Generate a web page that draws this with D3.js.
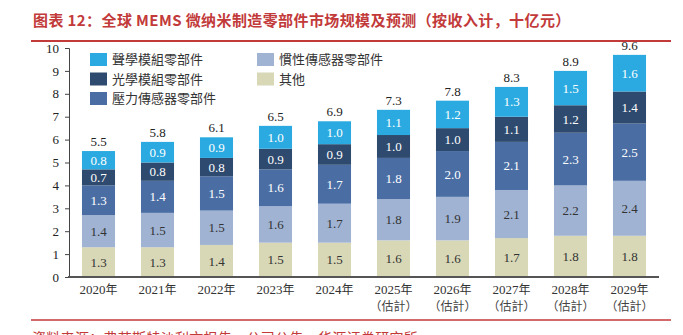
<!DOCTYPE html>
<meta charset="utf-8">
<html lang="zh">
<head>
<title>全球 MEMS 微纳米制造零部件市场规模及预测</title>
<style>
body { margin: 0; background: #fff; }
svg { display: block; }
.num { font-family: "Liberation Serif", "DejaVu Serif", serif; font-size: 13px; }
.cjk { font-family: "Noto Sans CJK TC", "Noto Sans CJK SC", sans-serif; }
</style>
</head>
<body>
<script src="https://d3js.org/d3.v7.min.js"></script>
<script>

var years = ["2020", "2021", "2022", "2023", "2024", "2025", "2026", "2027", "2028", "2029"];
var estimated = [false, false, false, false, false, true, true, true, true, true];

// stacked from the bottom up
var series = ["其他", "慣性傳感器零部件", "壓力傳感器零部件", "光學模組零部件", "聲學模組零部件"];
var other    = [1.3, 1.3, 1.4, 1.5, 1.5, 1.6, 1.6, 1.7, 1.8, 1.8];
var inertial = [1.4, 1.5, 1.5, 1.6, 1.7, 1.8, 1.9, 2.1, 2.2, 2.4];
var pressure = [1.3, 1.4, 1.5, 1.6, 1.7, 1.8, 2.0, 2.1, 2.3, 2.5];
var optical  = [0.7, 0.8, 0.8, 0.9, 0.9, 1.0, 1.0, 1.1, 1.2, 1.4];
var acoustic = [0.8, 0.9, 0.9, 1.0, 1.0, 1.1, 1.2, 1.3, 1.5, 1.6];
var totals   = [5.5, 5.8, 6.1, 6.5, 6.9, 7.3, 7.8, 8.3, 8.9, 9.6];

var yTicks = [0, 1, 2, 3, 4, 5, 6, 7, 8, 9, 10];

var colors = {
  "其他": "#d8d8b7",
  "慣性傳感器零部件": "#a0b3d3",
  "壓力傳感器零部件": "#4a6ea4",
  "光學模組零部件": "#2e4a6e",
  "聲學模組零部件": "#2aaae0"
};
var labelColor = {
  "其他": "#333", "慣性傳感器零部件": "#333",
  "壓力傳感器零部件": "#fff", "光學模組零部件": "#fff", "聲學模組零部件": "#fff"
};

var rows = years.map(function(y, i) {
  return { year: y, est: estimated[i], total: totals[i],
    "其他": other[i], "慣性傳感器零部件": inertial[i], "壓力傳感器零部件": pressure[i],
    "光學模組零部件": optical[i], "聲學模組零部件": acoustic[i] };
});

var width = 683, height = 335;
var red = "#c23a3a";

var svg = d3.select("body").append("svg")
    .attr("width", width)
    .attr("height", height);

// title and rules
svg.append("text")
    .attr("class", "cjk")
    .attr("x", 33).attr("y", 26)
    .attr("fill", red)
    .attr("font-size", 15).attr("font-weight", "bold")
    .attr("letter-spacing", 0.4)
    .text("图表 12：全球 MEMS 微纳米制造零部件市场规模及预测（按收入计，十亿元）");

svg.append("line")
    .attr("x1", 31).attr("x2", 671).attr("y1", 41).attr("y2", 41)
    .attr("stroke", red).attr("stroke-width", 2);

svg.append("line")
    .attr("x1", 31).attr("x2", 671).attr("y1", 320).attr("y2", 320)
    .attr("stroke", red).attr("stroke-width", 1.5);

svg.append("text")
    .attr("class", "cjk")
    .attr("x", 32).attr("y", 343)
    .attr("fill", red)
    .attr("font-size", 14)
    .attr("letter-spacing", 0.3)
    .text("资料来源：弗若斯特沙利文报告，公司公告，华源证券研究所");

var x = d3.scaleBand()
    .domain(years)
    .range([69, 659])
    .paddingInner(0.44)
    .paddingOuter(0.22);

var y = d3.scaleLinear()
    .domain([0, 10])
    .range([277, 48]);

var stack = d3.stack().keys(series)(rows);

var layer = svg.selectAll(".layer")
    .data(stack)
  .enter().append("g")
    .attr("class", "layer")
    .attr("fill", function(d) { return colors[d.key]; });

layer.selectAll("rect")
    .data(function(d) { return d; })
  .enter().append("rect")
    .attr("x", function(d) { return x(d.data.year); })
    .attr("width", x.bandwidth())
    .attr("y", function(d) { return y(d[1]); })
    .attr("height", function(d) { return y(d[0]) - y(d[1]); });

layer.each(function(s) {
  d3.select(this).selectAll("text")
      .data(s)
    .enter().append("text")
      .attr("class", "num")
      .attr("x", function(d) { return x(d.data.year) + x.bandwidth() / 2; })
      .attr("y", function(d) { return (y(d[0]) + y(d[1])) / 2; })
      .attr("dy", "0.35em")
      .attr("text-anchor", "middle")
      .attr("fill", labelColor[s.key])
      .text(function(d) { return d3.format(".1f")(d.data[s.key]); });
});

// totals above each stack
var topLayer = stack[stack.length - 1];
svg.selectAll(".total")
    .data(topLayer)
  .enter().append("text")
    .attr("class", "num total")
    .attr("x", function(d) { return x(d.data.year) + x.bandwidth() / 2; })
    .attr("y", function(d) { return y(d[1]) - 5; })
    .attr("text-anchor", "middle")
    .attr("fill", "#222")
    .text(function(d) { return d3.format(".1f")(d.data.total); });

// y axis
var yAxis = svg.append("g")
    .attr("transform", "translate(69,0)")
    .call(d3.axisLeft(y).tickValues(yTicks).tickSize(4).tickPadding(6));
yAxis.select(".domain").attr("stroke", "#444");
yAxis.selectAll(".tick line").attr("stroke", "#444");
yAxis.selectAll("text")
    .attr("class", "num")
    .attr("font-size", null)
    .attr("font-family", null)
    .attr("fill", "#222");

// x axis
svg.append("line")
    .attr("x1", 68).attr("x2", 659)
    .attr("y1", y(0)).attr("y2", y(0))
    .attr("stroke", "#555").attr("stroke-width", 2);

var xLab = svg.selectAll(".xlab")
    .data(rows)
  .enter().append("text")
    .attr("class", "num xlab")
    .attr("text-anchor", "middle")
    .attr("fill", "#333")
    .attr("x", function(d) { return x(d.year) + x.bandwidth() / 2; })
    .attr("y", 294);

xLab.append("tspan").text(function(d) { return d.year; });
xLab.append("tspan").attr("class", "cjk").attr("font-size", 12).text("年");

svg.selectAll(".xest")
    .data(rows.filter(function(d) { return d.est; }))
  .enter().append("text")
    .attr("class", "cjk xest")
    .attr("font-size", 12)
    .attr("text-anchor", "middle")
    .attr("fill", "#444")
    .attr("x", function(d) { return x(d.year) + x.bandwidth() / 2; })
    .attr("y", 311)
    .text("（估計）");

// legend, two columns
var legendOrder = ["聲學模組零部件", "慣性傳感器零部件", "光學模組零部件", "其他", "壓力傳感器零部件"];
var legend = svg.selectAll(".legend")
    .data(legendOrder)
  .enter().append("g")
    .attr("class", "legend")
    .attr("transform", function(d, i) {
      return "translate(" + (i % 2 ? 257 : 90) + "," + (53 + Math.floor(i / 2) * 19.5) + ")";
    });

legend.append("rect")
    .attr("width", 17).attr("height", 13)
    .attr("fill", function(d) { return colors[d]; });

legend.append("text")
    .attr("class", "cjk")
    .attr("x", 22).attr("y", 6.5)
    .attr("dy", "0.35em")
    .attr("font-size", 13)
    .attr("fill", "#333")
    .text(function(d) { return d; });

</script>
</body>
</html>
